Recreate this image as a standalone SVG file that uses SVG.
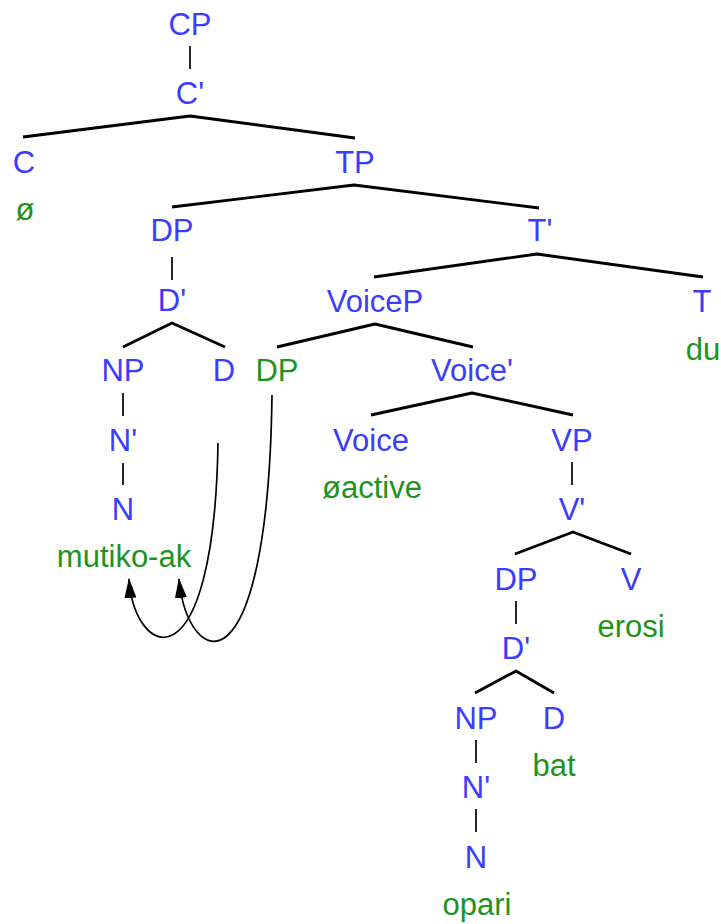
<svg xmlns="http://www.w3.org/2000/svg" width="721" height="924" viewBox="0 0 721 924">
  <style>
    text { font-family: "Liberation Sans", Arial, sans-serif; font-size: 31px; text-anchor: middle; }
    .cat { fill: #3c3cff; }
    .word { fill: #1e931e; }
    .branch { stroke: #000; stroke-width: 2.9; fill: none; stroke-linejoin: round; }
    .unary { stroke: #000; stroke-width: 1.7; fill: none; }
    .move { stroke: #000; stroke-width: 1.7; fill: none; marker-end: url(#head); }
  </style>
  <defs>
    <marker id="head" viewBox="0 0 20 12" refX="19" refY="6" markerUnits="userSpaceOnUse" markerWidth="20" markerHeight="12" orient="auto">
      <path d="M0,0 L20,6 L0,12 z" fill="#000"/>
    </marker>
  </defs>
  <rect width="721" height="924" fill="#fff"/>

  <!-- tree edges and movement arrows -->
  <g id="connectors">
    <line class="unary" x1="190" y1="46" x2="190" y2="69"/>
    <polyline class="branch" points="23,137 190,116 355,138"/>
    <polyline class="branch" points="172,207 354,185 539,208"/>
    <line class="unary" x1="172" y1="257" x2="172" y2="280"/>
    <polyline class="branch" points="374,277 537,254 703,277"/>
    <polyline class="branch" points="123,347 172,323 225,347"/>
    <polyline class="branch" points="277,347 375,324 473,347"/>
    <line class="unary" x1="123" y1="393" x2="123" y2="416"/>
    <polyline class="branch" points="371,415 472,393 573,415"/>
    <line class="unary" x1="123" y1="463" x2="123" y2="485"/>
    <line class="unary" x1="572" y1="462" x2="572" y2="485"/>
    <polyline class="branch" points="515,554 573,532 631,554"/>
    <line class="unary" x1="516" y1="601" x2="516" y2="624"/>
    <polyline class="branch" points="475,693 516,671 554,693"/>
    <line class="unary" x1="476" y1="740" x2="476" y2="763"/>
    <line class="unary" x1="476" y1="809" x2="476" y2="832"/>
    <path class="move" d="M218,443 C214,690 135,660 129,579"/>
    <path class="move" d="M272,395 C268,700 188,670 179,579"/>
  </g>

  <g id="cp"><text class="cat" x="190" y="35">CP</text></g>
  <g id="cbar"><text class="cat" x="190" y="104">C'</text></g>
  <g id="c"><text class="cat" x="24" y="173">C</text><text class="word" x="25" y="220">ø</text></g>
  <g id="tp"><text class="cat" x="355" y="173">TP</text></g>
  <g id="dp-subj"><text class="cat" x="172" y="241">DP</text></g>
  <g id="tbar"><text class="cat" x="540" y="241">T'</text></g>
  <g id="dbar-subj"><text class="cat" x="172" y="311">D'</text></g>
  <g id="voicep"><text class="cat" x="375" y="312">VoiceP</text></g>
  <g id="t"><text class="cat" x="702" y="312">T</text><text class="word" x="703" y="360">du</text></g>
  <g id="np-subj"><text class="cat" x="123" y="381">NP</text></g>
  <g id="d-subj"><text class="cat" x="224" y="381">D</text></g>
  <g id="dp-trace"><text class="word" x="277" y="381">DP</text></g>
  <g id="voicebar"><text class="cat" x="472" y="381">Voice'</text></g>
  <g id="nbar-subj"><text class="cat" x="123" y="451">N'</text></g>
  <g id="voice"><text class="cat" x="371" y="451">Voice</text><text class="word" x="372" y="498">øactive</text></g>
  <g id="vp"><text class="cat" x="572" y="451">VP</text></g>
  <g id="n-subj"><text class="cat" x="123" y="520">N</text><text class="word" x="124" y="567">mutiko-ak</text></g>
  <g id="vbar"><text class="cat" x="572" y="520">V'</text></g>
  <g id="dp-obj"><text class="cat" x="516" y="590">DP</text></g>
  <g id="v"><text class="cat" x="631" y="590">V</text><text class="word" x="631" y="637">erosi</text></g>
  <g id="dbar-obj"><text class="cat" x="516" y="659">D'</text></g>
  <g id="np-obj"><text class="cat" x="476" y="729">NP</text></g>
  <g id="d-obj"><text class="cat" x="554" y="729">D</text><text class="word" x="554" y="776">bat</text></g>
  <g id="nbar-obj"><text class="cat" x="476" y="798">N'</text></g>
  <g id="n-obj"><text class="cat" x="476" y="868">N</text><text class="word" x="477" y="915">opari</text></g>
</svg>
